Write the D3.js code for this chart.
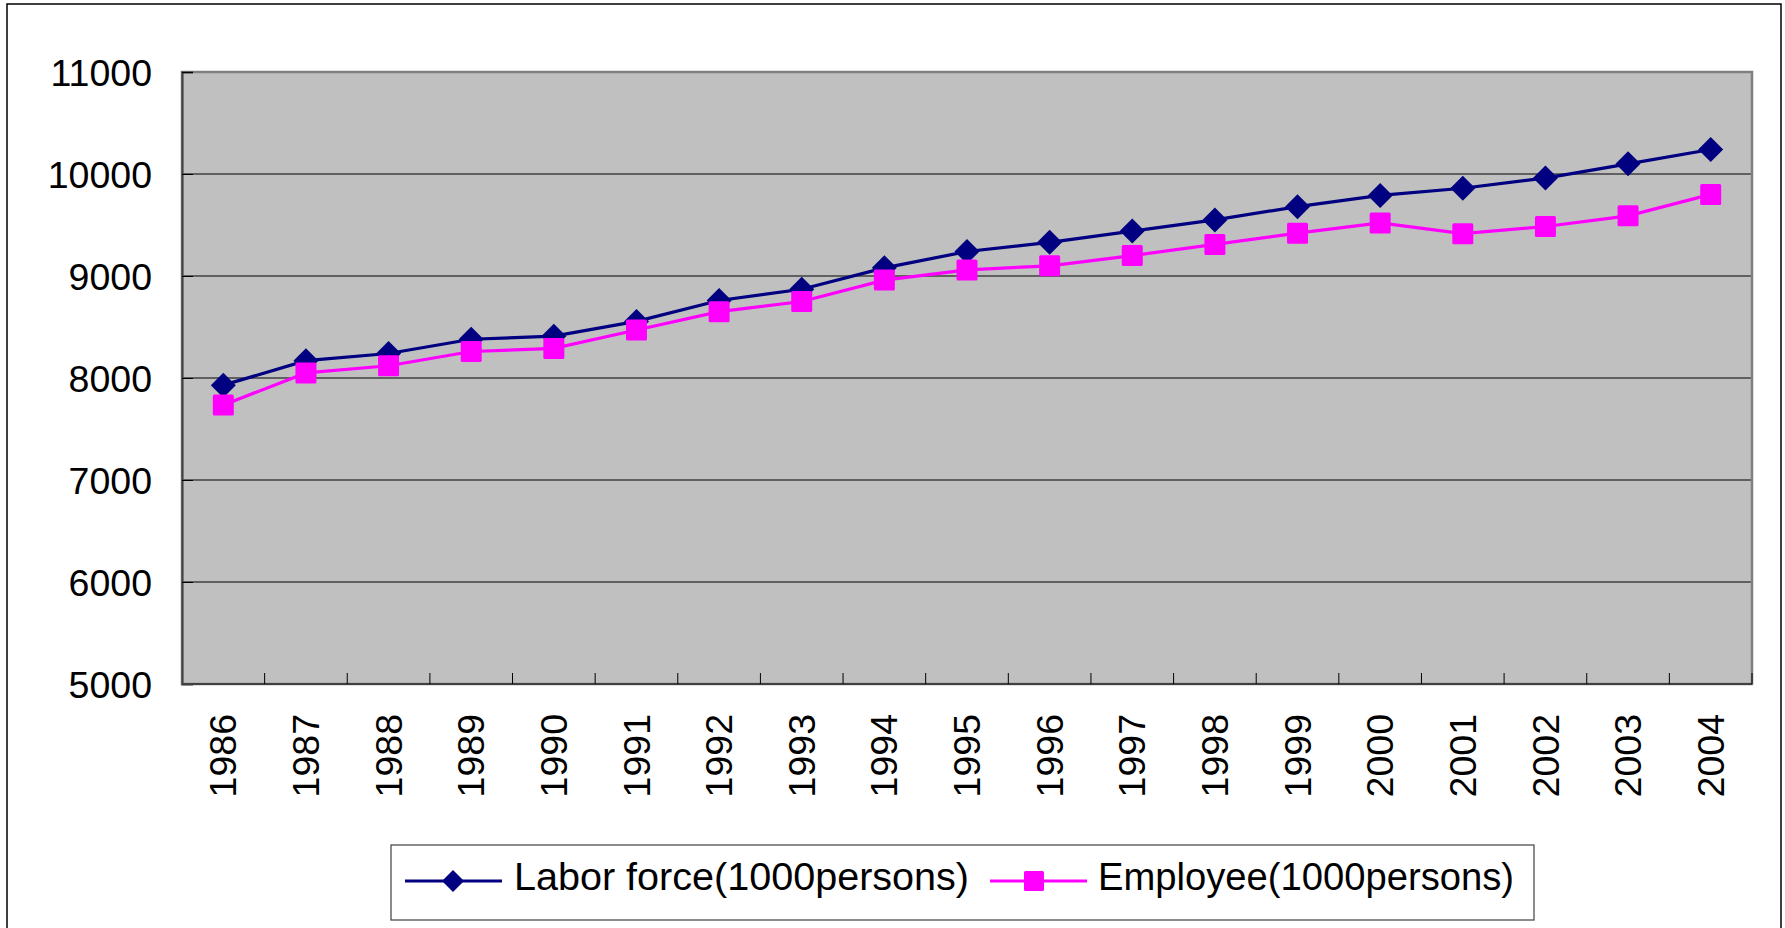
<!DOCTYPE html>
<html>
<head>
<meta charset="utf-8">
<script src="https://cdn.jsdelivr.net/npm/d3@7"></script>
<style>
  html, body { margin: 0; padding: 0; background: #ffffff; }
  svg { display: block; }
  text { font-family: "Liberation Sans", Arial, sans-serif; fill: #000; }
</style>
</head>
<body>
<svg id="chart" width="1785" height="928"></svg>
<script>
const years = ["1986","1987","1988","1989","1990","1991","1992","1993","1994","1995","1996","1997","1998","1999","2000","2001","2002","2003","2004"];
const laborForce = [7930,8170,8240,8380,8410,8555,8760,8870,9080,9240,9330,9440,9550,9680,9790,9860,9960,10100,10240];
const employee   = [7735,8050,8120,8260,8290,8470,8650,8750,8960,9060,9100,9200,9310,9420,9520,9415,9485,9590,9800];
const yTicks = [5000,6000,7000,8000,9000,10000,11000];
const seriesNames = ["Labor force(1000persons)", "Employee(1000persons)"];

const svg = d3.select("#chart");
const plot = {left: 182, right: 1752, top: 72, bottom: 684};

// outer frame
svg.append("rect").attr("x", 7).attr("y", 4).attr("width", 1774).attr("height", 940)
  .attr("fill", "#fff").attr("stroke", "#000").attr("stroke-width", 1.5);

const x = d3.scaleBand().domain(years).range([plot.left, plot.right]).paddingInner(0).paddingOuter(0);
const y = d3.scaleLinear().domain([5000, 11000]).range([plot.bottom, plot.top]);

// plot background
svg.append("rect").attr("x", plot.left).attr("y", plot.top)
  .attr("width", plot.right - plot.left).attr("height", plot.bottom - plot.top)
  .attr("fill", "#c0c0c0");

// gridlines
svg.append("g").selectAll("line").data(yTicks.filter(d => d > 5000 && d < 11000)).join("line")
  .attr("x1", plot.left).attr("x2", plot.right)
  .attr("y1", d => y(d)).attr("y2", d => y(d))
  .attr("stroke", "#000").attr("stroke-width", 1);

// plot border (gray top/right)
svg.append("rect").attr("x", plot.left).attr("y", plot.top)
  .attr("width", plot.right - plot.left).attr("height", plot.bottom - plot.top)
  .attr("fill", "none").attr("stroke", "#808080").attr("stroke-width", 2.5);

// y axis
const yAxis = d3.axisLeft(y).tickValues(yTicks).tickSize(-11).tickPadding(30).tickFormat(d3.format("d"));
const gy = svg.append("g").attr("transform", `translate(${plot.left},0)`).call(yAxis);
gy.select(".domain").attr("stroke", "#404040").attr("stroke-width", 2);
gy.selectAll(".tick line").attr("stroke", "#000").attr("stroke-width", 1);
gy.selectAll(".tick text").attr("font-size", 37.5).attr("x", -30).attr("dy", "0.35em")
  .style("font-family", '"Liberation Sans", Arial, sans-serif');

// x axis with ticks at category boundaries
const gx = svg.append("g").attr("transform", `translate(0,${plot.bottom})`);
gx.append("line").attr("x1", plot.left).attr("x2", plot.right).attr("y1", 0).attr("y2", 0)
  .attr("stroke", "#404040").attr("stroke-width", 2);
const bounds = years.map(d => x(d)).concat([x(years[years.length-1]) + x.bandwidth()]);
gx.selectAll("line.tk").data(bounds.slice(1)).join("line").attr("class", "tk")
  .attr("x1", d => d).attr("x2", d => d).attr("y1", 0).attr("y2", -11)
  .attr("stroke", "#000").attr("stroke-width", 1);
gx.selectAll("text").data(years).join("text")
  .attr("transform", d => `translate(${x(d) + x.bandwidth()/2},30) rotate(-90)`)
  .attr("text-anchor", "end").attr("dy", "0.35em").attr("font-size", 37.5)
  .text(d => d);

// lines
const lineGen = arr => d3.line().x((d, i) => x(years[i]) + x.bandwidth()/2).y(d => y(d))(arr);
svg.append("path").attr("d", lineGen(laborForce)).attr("fill", "none")
  .attr("stroke", "#000080").attr("stroke-width", 3.2);
svg.append("path").attr("d", lineGen(employee)).attr("fill", "none")
  .attr("stroke", "#ff00ff").attr("stroke-width", 3.2);

const diamond = (cx, cy, r) => `M${cx},${cy-r}L${cx+r},${cy}L${cx},${cy+r}L${cx-r},${cy}Z`;
svg.append("g").selectAll("path").data(laborForce).join("path")
  .attr("d", (d, i) => diamond(x(years[i]) + x.bandwidth()/2, y(d), 12.5))
  .attr("fill", "#000080");
svg.append("g").selectAll("rect").data(employee).join("rect")
  .attr("x", (d, i) => x(years[i]) + x.bandwidth()/2 - 10.5)
  .attr("y", d => y(d) - 10.5)
  .attr("width", 21).attr("height", 21).attr("rx", 1.5)
  .attr("fill", "#ff00ff");

// legend
const lg = svg.append("g");
lg.append("rect").attr("x", 391).attr("y", 845).attr("width", 1143).attr("height", 75)
  .attr("fill", "#fff").attr("stroke", "#404040").attr("stroke-width", 1.2);
const ly = 881;
lg.append("line").attr("x1", 405).attr("x2", 502).attr("y1", ly).attr("y2", ly)
  .attr("stroke", "#000080").attr("stroke-width", 3.2);
lg.append("path").attr("d", diamond(453, ly, 11)).attr("fill", "#000080");
lg.append("text").attr("x", 514).attr("y", 890).attr("font-size", 38)
  .attr("textLength", 455).attr("lengthAdjust", "spacingAndGlyphs").text(seriesNames[0]);
lg.append("line").attr("x1", 990).attr("x2", 1087).attr("y1", ly).attr("y2", ly)
  .attr("stroke", "#ff00ff").attr("stroke-width", 3.2);
lg.append("rect").attr("x", 1034 - 10).attr("y", ly - 10).attr("width", 20).attr("height", 20)
  .attr("rx", 1.5).attr("fill", "#ff00ff");
lg.append("text").attr("x", 1098).attr("y", 890).attr("font-size", 38)
  .attr("textLength", 416).attr("lengthAdjust", "spacingAndGlyphs").text(seriesNames[1]);
</script>
</body>
</html>
